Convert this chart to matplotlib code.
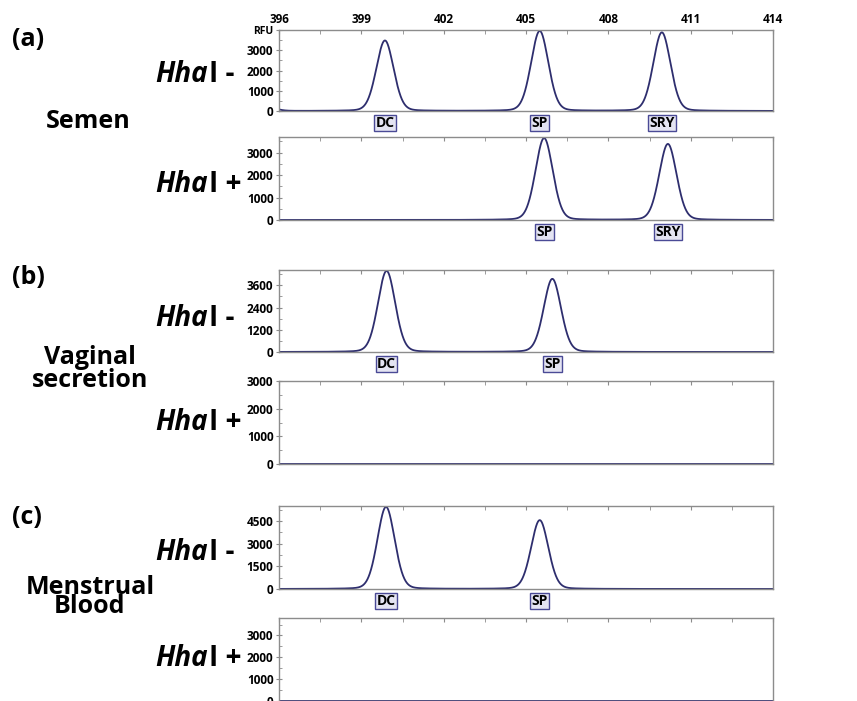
import numpy as np
import matplotlib
matplotlib.use("Agg")
from matplotlib import pyplot as plt
from matplotlib.ticker import MultipleLocator
from matplotlib.text import Annotation

plt.rcParams['font.family'] = ['Open Sans', 'DejaVu Sans']
plt.rcParams['font.weight'] = 'bold'

W, H = 857, 701

# 片段大小范围 (bp)
x_min, x_max = 396, 414
top_ticks = [396, 399, 402, 405, 408, 411, 414]

# 每个子图: 峰位置, 峰高 (RFU), 峰标签
a_minus_pos = [395.5, 399.86, 405.5, 409.95]
a_minus_h = [250, 3480, 3950, 3880]
a_minus_lab = [None, 'DC', 'SP', 'SRY']

a_plus_pos = [405.66, 410.17]
a_plus_h = [3640, 3380]
a_plus_lab = ['SP', 'SRY']

b_minus_pos = [399.92, 405.96]
b_minus_h = [4380, 3950]
b_minus_lab = ['DC', 'SP']

b_plus_pos = []
b_plus_h = []
b_plus_lab = []

c_minus_pos = [399.9, 405.5]
c_minus_h = [5440, 4560]
c_minus_lab = ['DC', 'SP']

c_plus_pos = []
c_plus_h = []
c_plus_lab = []

# y 轴刻度
a_minus_yt = [0, 1000, 2000, 3000, 4000]
a_minus_ytl = ['0', '1000', '2000', '3000', 'RFU']
a_plus_yt = [0, 1000, 2000, 3000]
b_minus_yt = [0, 1200, 2400, 3600]
b_plus_yt = [0, 1000, 2000, 3000]
c_minus_yt = [0, 1500, 3000, 4500]
c_plus_yt = [0, 1000, 2000, 3000]


def peak_shape(x, pos, h, sigma=0.32, gamma=0.33, eta=0.14):
    """高斯 + 洛伦兹混合峰形"""
    g = np.exp(-0.5 * ((x - pos) / sigma) ** 2)
    lo = 1.0 / (1.0 + ((x - pos) / gamma) ** 2)
    return h * ((1 - eta) * g + eta * lo)


def px_rect(top, bottom, left=279, right=773):
    return [left / W, 1 - bottom / H, (right - left) / W, (bottom - top) / H]


fig = plt.figure(figsize=(W / 100, H / 100), dpi=100)
fig.patch.set_facecolor('white')

line_color = '#2e2e6e'
spine_color = '#8c8c8c'

panels = [
    (30, 111, a_minus_pos, a_minus_h, a_minus_lab, a_minus_yt, 4000, 500),
    (137, 220, a_plus_pos, a_plus_h, a_plus_lab, a_plus_yt, 3690, 500),
    (270, 352, b_minus_pos, b_minus_h, b_minus_lab, b_minus_yt, 4430, 600),
    (381, 464, b_plus_pos, b_plus_h, b_plus_lab, b_plus_yt, 3000, 500),
    (506, 589, c_minus_pos, c_minus_h, c_minus_lab, c_minus_yt, 5500, 750),
    (618, 701, c_plus_pos, c_plus_h, c_plus_lab, c_plus_yt, 3800, 500),
]

xs = np.linspace(x_min, x_max, 3000)
for i, (top, bottom, pos, hts, labs, yt, ytop, ymin_step) in enumerate(panels):
    ax = fig.add_axes(px_rect(top, bottom))
    ys = np.zeros_like(xs)
    for p, h in zip(pos, hts):
        ys += peak_shape(xs, p, h)
    ax.plot(xs, ys, color=line_color, linewidth=1.3)
    ax.set_xlim(x_min, x_max)
    ax.set_ylim(0, ytop)

    for s in ax.spines.values():
        s.set_color(spine_color)
        s.set_linewidth(1.0)

    ax.xaxis.tick_top()
    ax.set_xticks(top_ticks)
    ax.xaxis.set_minor_locator(MultipleLocator(1.5))
    ax.tick_params(axis='x', which='both', direction='in', length=3,
                   color=spine_color, pad=3, labelsize=8.5)
    if i != 0:
        ax.tick_params(axis='x', labeltop=False)

    ax.set_yticks(yt)
    if i == 0:
        ax.set_yticklabels(a_minus_ytl)
    ax.yaxis.set_minor_locator(MultipleLocator(ymin_step))
    ax.tick_params(axis='y', which='major', direction='inout', length=4,
                   color=spine_color, pad=2, labelsize=8.5)
    ax.tick_params(axis='y', which='minor', direction='in', length=2.5,
                   color=spine_color)
    if i == 0:
        ax.get_yticklabels()[-1].set_fontsize(7.5)

    for p, lab in zip(pos, labs):
        if lab is None:
            continue
        ax.annotate(lab, xy=(p, 0), xycoords=('data', 'axes fraction'),
                    xytext=(0, -12), textcoords='offset pixels',
                    ha='center', va='center', fontsize=10, fontweight='bold',
                    bbox=dict(boxstyle='square,pad=0.1', fc='#e4e4f2',
                              ec='#4a4a96', lw=1.0))


def ftext(x, y, s, **kw):
    return fig.text(x / W, 1 - y / H, s, **kw)


# 左侧标签
for y, s in [(40, '(a)'), (278, '(b)'), (517, '(c)')]:
    ftext(12, y, s, fontsize=18, va='center', ha='left')

ftext(88, 122, 'Semen', fontsize=18, va='center', ha='center')
ftext(90, 369, 'Vaginal\nsecretion', fontsize=18, va='center', ha='center',
      multialignment='center', linespacing=0.85)
ftext(90, 597, 'Menstrual\nBlood', fontsize=18, va='center', ha='center',
      multialignment='center', linespacing=0.68)

enzyme_rows = [(75, 'I -'), (185, 'I +'), (318, 'I -'), (422, 'I +'),
               (553, 'I -'), (658, 'I +')]
for y, s in enzyme_rows:
    t1 = ftext(209, y, s, fontsize=20, va='center', ha='left')
    fig.add_artist(Annotation(
        'Hha', xy=(0, 0), xycoords=t1, xytext=(-1, 0),
        textcoords='offset pixels', ha='right', va='bottom',
        fontsize=20, style='italic', fontweight='bold'))

fig.savefig('out.png', dpi=100, facecolor='white')
